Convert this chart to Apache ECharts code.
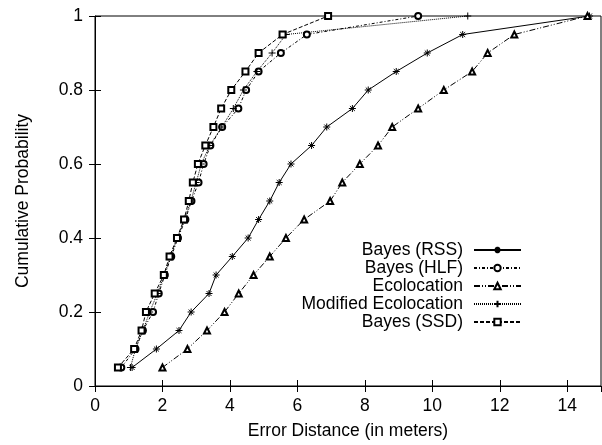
<!DOCTYPE html>
<html>
<head>
<meta charset="utf-8">
<script src="https://cdn.jsdelivr.net/npm/echarts@6/dist/echarts.min.js"></script>
<style>
  html, body { margin: 0; padding: 0; background: #fff; }
  #main { width: 602px; height: 445px; }
</style>
</head>
<body>
<div id="main"></div>
<script>
// cumulative probability levels (y)
var probs = [0.05, 0.10, 0.15, 0.20, 0.25, 0.30, 0.35, 0.40, 0.45, 0.50,
             0.55, 0.60, 0.65, 0.70, 0.75, 0.80, 0.85, 0.90, 0.95, 1.00];

// error distance (x) for each method, in meters
var rssX = [1.10, 1.82, 2.49, 2.85, 3.38, 3.59, 4.07, 4.54, 4.85, 5.18,
            5.46, 5.81, 6.42, 6.87, 7.63, 8.10, 8.93, 9.85, 10.90, 14.66];
var hlfX = [0.78, 1.20, 1.42, 1.72, 1.89, 2.07, 2.26, 2.46, 2.68, 2.86,
            3.07, 3.22, 3.42, 3.77, 4.25, 4.48, 4.85, 5.51, 6.28, 9.58];
var ecoX = [2.00, 2.74, 3.32, 3.84, 4.26, 4.70, 5.18, 5.66, 6.20, 6.97,
            7.33, 7.85, 8.39, 8.81, 9.58, 10.34, 11.18, 11.64, 12.43, 14.60];
var modX = [1.05, 1.20, 1.42, 1.62, 1.85, 2.05, 2.24, 2.44, 2.66, 2.84,
            3.00, 3.15, 3.40, 3.76, 4.10, 4.40, 4.80, 5.25, 5.66, 11.05];
var ssdX = [0.68, 1.16, 1.38, 1.51, 1.77, 2.04, 2.21, 2.43, 2.64, 2.78,
            2.90, 3.05, 3.27, 3.51, 3.74, 4.04, 4.46, 4.85, 5.56, 6.91];

var xTicks = [0, 2, 4, 6, 8, 10, 12, 14];

var FONT = 'Liberation Sans';
var FS = 17.5;

function pairs(xs) {
  var out = [];
  for (var i = 0; i < xs.length; i++) out.push([xs[i], probs[i]]);
  return out;
}

/*一条曲线*/
function makeSeries(name, xs, symbol, dash, size) {
  return {
    name: name,
    type: 'line',
    data: pairs(xs),
    symbol: symbol,
    symbolSize: size,
    showSymbol: true,
    xAxisIndex: 0,
    yAxisIndex: 0,
    lineStyle: { color: '#000', width: 1, type: dash },
    itemStyle: { color: '#000', borderColor: '#000', borderWidth: 1 },
    emphasis: { disabled: true },
    animation: false
  };
}

var starPath = 'path://M0,4L8,4M4,0L4,8M1.2,1.2L6.8,6.8M6.8,1.2L1.2,6.8';
var plusPath = 'path://M0,4L8,4M4,0L4,8';

var myChart = echarts.init(document.getElementById('main'), null, { renderer: 'canvas' });

var tickStyle = { show: true, inside: true, length: 6, lineStyle: { color: '#000', width: 1 } };

var option = {
  backgroundColor: '#fff',
  animation: false,
  textStyle: { fontFamily: FONT },
  grid: {
    left: 95, right: 1, top: 16, bottom: 58,
    show: true, borderColor: '#000', borderWidth: 1, backgroundColor: 'transparent'
  },
  legend: {
    orient: 'vertical',
    align: 'right',
    right: 75,
    top: 236,
    itemWidth: 47,
    itemHeight: 8,
    itemGap: 0,
    selectedMode: false,
    textStyle: { fontFamily: FONT, fontSize: FS, color: '#000', padding: [0, 6, 0, 0] },
    data: ['Bayes (RSS)', 'Bayes (HLF)', 'Ecolocation', 'Modified Ecolocation', 'Bayes (SSD)']
  },
  xAxis: [{
    type: 'value',
    min: 0, max: 15, interval: 2,
    name: 'Error Distance (in meters)',
    nameLocation: 'middle',
    nameGap: 36,
    nameTextStyle: { fontFamily: FONT, fontSize: FS, color: '#000' },
    axisLine: { show: true, lineStyle: { color: '#000', width: 1 } },
    axisTick: tickStyle,
    axisLabel: {
      fontFamily: FONT, fontSize: FS, color: '#000', margin: 11,
      showMaxLabel: false,
      formatter: function (v) { return xTicks.indexOf(v) >= 0 ? String(v) : ''; }
    },
    splitLine: { show: false }
  }, {
    type: 'value',
    position: 'top',
    min: 0, max: 15, interval: 2,
    axisLine: { show: false },
    axisTick: tickStyle,
    axisLabel: { show: false },
    splitLine: { show: false }
  }],
  yAxis: [{
    type: 'value',
    min: 0, max: 1, interval: 0.2,
    name: 'Cumulative Probability',
    nameLocation: 'middle',
    nameRotate: 90,
    nameGap: 63,
    nameTextStyle: { fontFamily: FONT, fontSize: FS, color: '#000' },
    axisLine: { show: true, lineStyle: { color: '#000', width: 1 } },
    axisTick: tickStyle,
    axisLabel: { fontFamily: FONT, fontSize: FS, color: '#000', margin: 12 },
    splitLine: { show: false }
  }, {
    type: 'value',
    position: 'right',
    min: 0, max: 1, interval: 0.2,
    axisLine: { show: false },
    axisTick: tickStyle,
    axisLabel: { show: false },
    splitLine: { show: false }
  }],
  series: [
    makeSeries('Bayes (RSS)', rssX, starPath, 'solid', 7),
    makeSeries('Bayes (HLF)', hlfX, 'emptyCircle', [3, 2, 1, 2], 6),
    makeSeries('Ecolocation', ecoX, 'emptyTriangle', [6, 2, 1, 2, 1, 2], 6),
    makeSeries('Modified Ecolocation', modX, plusPath, [1, 1], 7),
    makeSeries('Bayes (SSD)', ssdX, 'emptyRect', [4, 2], 6)
  ]
};

myChart.setOption(option);
</script>
</body>
</html>
